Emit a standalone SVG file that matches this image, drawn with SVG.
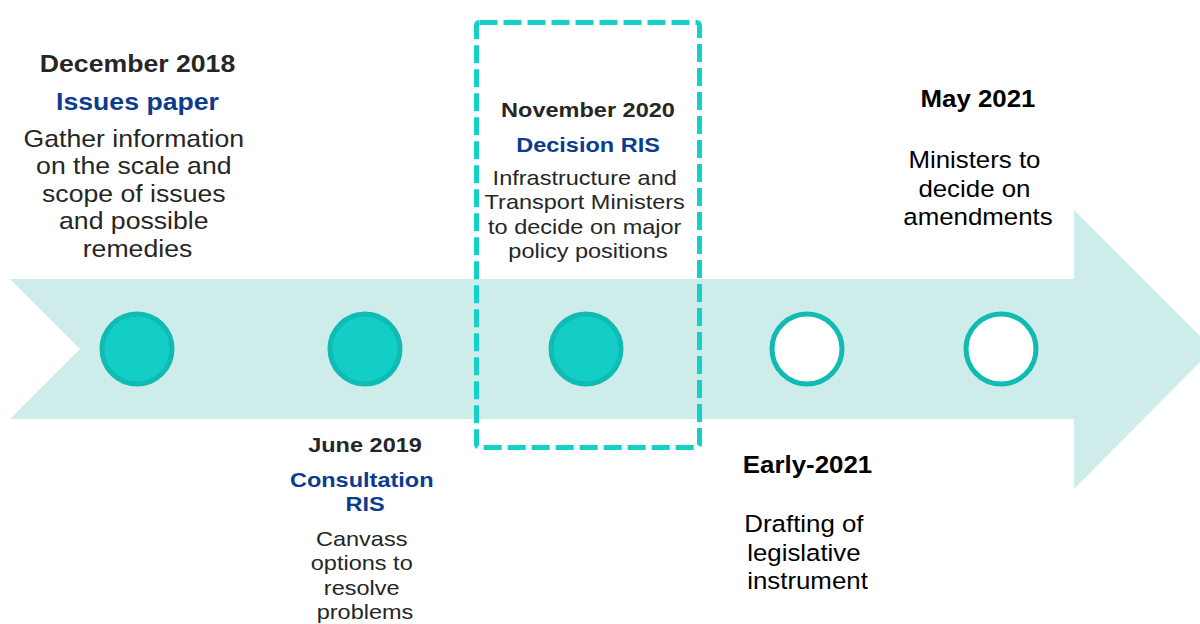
<svg xmlns="http://www.w3.org/2000/svg" width="1200" height="624" viewBox="0 0 1200 624">
  <style>
    text { font-family: "Liberation Sans", Arial, sans-serif; text-anchor: middle; }
    .date { font-weight: bold; fill: #262626; }
    .title { font-weight: bold; fill: #0d3b8e; }
    .body { fill: #262626; }
    .dark { fill: #000000; }
    .done { fill: #12cec6; stroke: #0fbbb3; stroke-width: 5; }
    .todo { fill: #ffffff; stroke: #0fbbb3; stroke-width: 5; }
  </style>
  <rect width="1200" height="624" fill="#ffffff"/>

  <!-- timeline band -->
  <g id="timeline">
    <path d="M10 279 L1074 279 L1074 210 L1213 349 L1074 489 L1074 419 L10 419 L80 349 Z" fill="#ceecea"/>
  </g>

  <!-- highlight frame around the current stage -->
  <g id="highlight">
    <rect x="476.5" y="22.5" width="223" height="425" rx="3" fill="none" stroke="#14d1c8" stroke-width="5" stroke-dasharray="18 6"/>
  </g>

  <!-- milestone markers -->
  <g id="markers">
    <circle id="m1" class="done" cx="137" cy="349" r="35"/>
    <circle id="m2" class="done" cx="365" cy="349" r="35"/>
    <circle id="m3" class="done" cx="586" cy="349" r="35"/>
    <circle id="m4" class="todo" cx="807" cy="349" r="35"/>
    <circle id="m5" class="todo" cx="1001" cy="349" r="35"/>
  </g>

  <g id="node-dec2018" transform="translate(137.5 0) scale(1.11 1)">
    <text class="date" x="0" y="72" font-size="24">December 2018</text>
    <text class="title" x="0" y="110" font-size="24">Issues paper</text>
    <text class="body" font-size="24">
      <tspan x="0" y="147">Gather information</tspan>
      <tspan x="0" y="174.5">on the scale and</tspan>
      <tspan x="0" y="202">scope of issues</tspan>
      <tspan x="0" y="229.5">and possible</tspan>
      <tspan x="0" y="257">remedies</tspan>
    </text>
  </g>

  <g id="node-jun2019" transform="translate(365 0) scale(1.12 1)">
    <text class="date" x="0" y="452" font-size="21">June 2019</text>
    <text class="title" font-size="21">
      <tspan x="0" y="487.5">Consultation</tspan>
      <tspan x="0" y="511.5">RIS</tspan>
    </text>
    <text class="body" font-size="21">
      <tspan x="0" y="546">Canvass</tspan>
      <tspan x="0" y="570.5">options to</tspan>
      <tspan x="0" y="595">resolve</tspan>
      <tspan x="0" y="619">problems</tspan>
    </text>
  </g>

  <g id="node-nov2020" transform="translate(588 0) scale(1.12 1)">
    <text class="date" x="0" y="117" font-size="21">November 2020</text>
    <text class="title" x="0" y="152" font-size="21">Decision RIS</text>
    <text class="body" font-size="21">
      <tspan x="0" y="185">Infrastructure and</tspan>
      <tspan x="0" y="209.5">Transport Ministers</tspan>
      <tspan x="0" y="234">to decide on major</tspan>
      <tspan x="0" y="258.5">policy positions</tspan>
    </text>
  </g>

  <g id="node-early2021" transform="translate(807.5 0) scale(1.1 1)">
    <text class="date dark" x="0" y="473.5" font-size="23.5">Early-2021</text>
    <text class="body dark" font-size="23.5">
      <tspan x="0" y="532">Drafting of</tspan>
      <tspan x="0" y="561">legislative</tspan>
      <tspan x="0" y="589.5">instrument</tspan>
    </text>
  </g>

  <g id="node-may2021" transform="translate(978 0) scale(1.1 1)">
    <text class="date dark" x="0" y="107" font-size="23.5">May 2021</text>
    <text class="body dark" font-size="23.5">
      <tspan x="0" y="168.5">Ministers to</tspan>
      <tspan x="0" y="197">decide on</tspan>
      <tspan x="0" y="225">amendments</tspan>
    </text>
  </g>
</svg>
